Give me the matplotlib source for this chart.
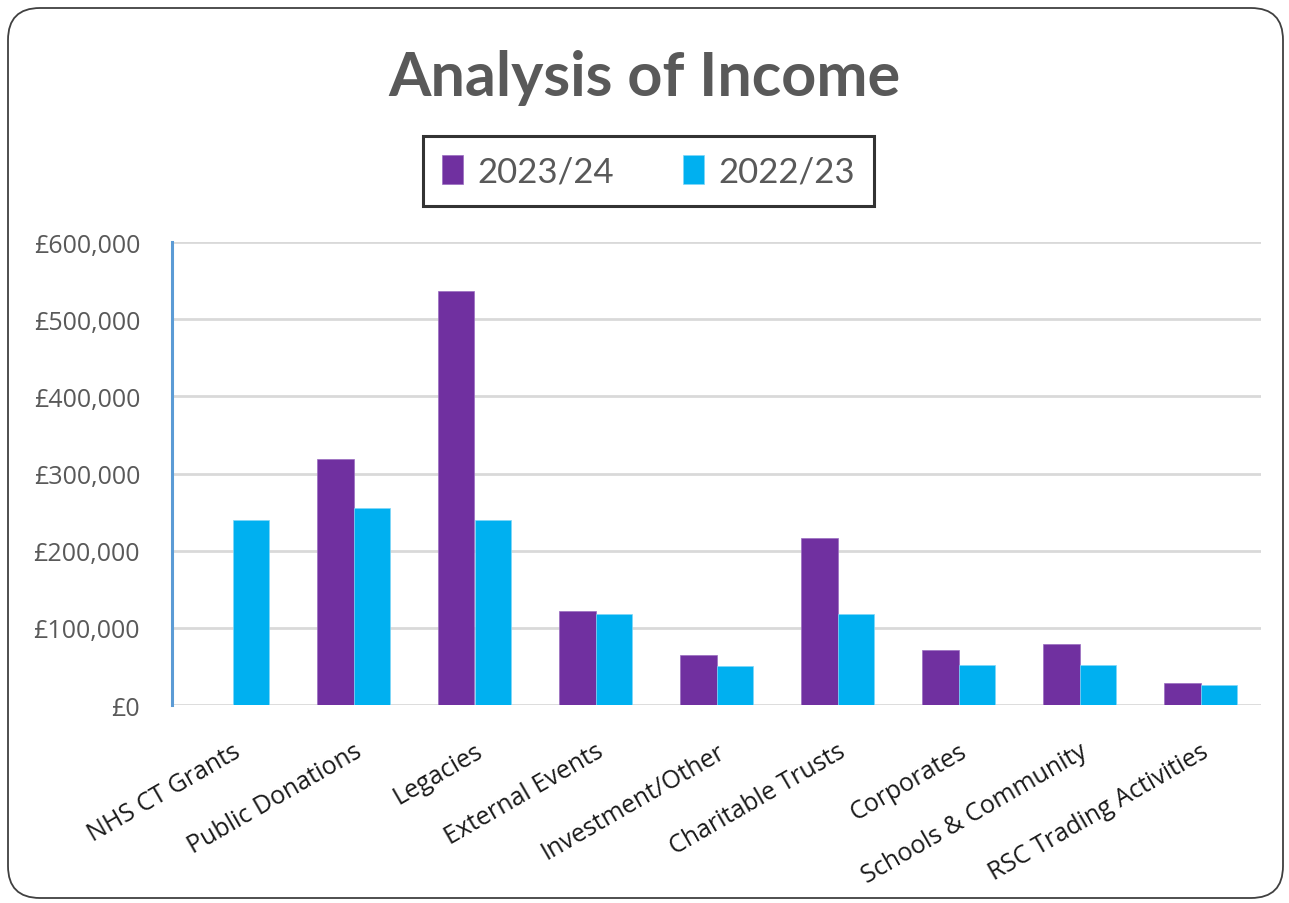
import matplotlib
matplotlib.use("Agg")
import matplotlib.pyplot as plt
import numpy as np
from matplotlib.patches import FancyBboxPatch
from matplotlib.ticker import FuncFormatter

categories = ["NHS CT Grants", "Public Donations", "Legacies", "External Events",
              "Investment/Other", "Charitable Trusts", "Corporates",
              "Schools & Community", "RSC Trading Activities"]
income_2324 = [0, 319000, 536000, 122000, 65000, 216000, 71000, 79000, 28000]
income_2223 = [240000, 255000, 240000, 118000, 51000, 118000, 52000, 52000, 26000]
series_names = ["2023/24", "2022/23"]

PURPLE = "#7030A0"
BLUE = "#00B0F0"
GREY = "#595959"

fig = plt.figure(figsize=(12.89, 9.04), dpi=100)
ax = fig.add_axes([172 / 1289, 1 - 706 / 904, (1261 - 172) / 1289, (706 - 243) / 904])

# rounded chart-area frame
frame = FancyBboxPatch((0.08, 0.05), 12.75, 8.9, boxstyle="round,pad=0,rounding_size=0.32",
                       transform=fig.dpi_scale_trans, fill=False, edgecolor="#404040",
                       linewidth=1.3, zorder=0)
fig.add_artist(frame)

x = np.arange(len(categories))
w = 0.305
b1 = ax.bar(x - w / 2, income_2324, w, color=PURPLE, edgecolor="#9a6cc0", linewidth=0.5, zorder=3)
b2 = ax.bar(x + w / 2, income_2223, w, color=BLUE, edgecolor="#7fd6f7", linewidth=0.5, zorder=3)

ax.set_xlim(-0.5, len(categories) - 0.5)
ax.set_ylim(0, 600000)
ax.set_yticks(np.arange(0, 600001, 100000))
ax.yaxis.set_major_formatter(FuncFormatter(lambda v, p: "£{:,.0f}".format(v)))
ax.grid(axis="y", color="#D9D9D9", linewidth=2, zorder=0)
ax.set_axisbelow(True)

for s in ["top", "right", "bottom"]:
    ax.spines[s].set_visible(False)
ax.spines["left"].set_color("#5B9BD5")
ax.spines["left"].set_linewidth(2.2)

ax.tick_params(axis="y", length=0, pad=23, labelsize=18, labelcolor=GREY)
for lab in ax.get_yticklabels():
    lab.set_fontfamily("Open Sans")

ax.set_xticks(x)
ax.set_xticklabels(categories, rotation=30, ha="right", va="top",
                   rotation_mode="anchor", fontsize=18, color="#1a1a1a",
                   family="Open Sans")
ax.tick_params(axis="x", length=0, pad=24)

fig.text(0.5, 1 - 78 / 904, "Analysis of Income", ha="center", va="center",
         fontsize=44, fontweight="bold", color=GREY, family="Lato")

leg = fig.legend([b1, b2], series_names, loc="center", bbox_to_anchor=(648.5 / 1289, 1 - 172 / 904),
                 ncol=2, frameon=True, fancybox=False,
                 handlelength=0.6, handleheight=0.9, handletextpad=0.4, columnspacing=2.0,
                 borderpad=0.55, prop={"family": "Lato", "size": 25})
leg.get_frame().set_edgecolor("black")
leg.get_frame().set_linewidth(2.2)
for t in leg.get_texts():
    t.set_color(GREY)

fig.savefig("out.png", dpi=100)
